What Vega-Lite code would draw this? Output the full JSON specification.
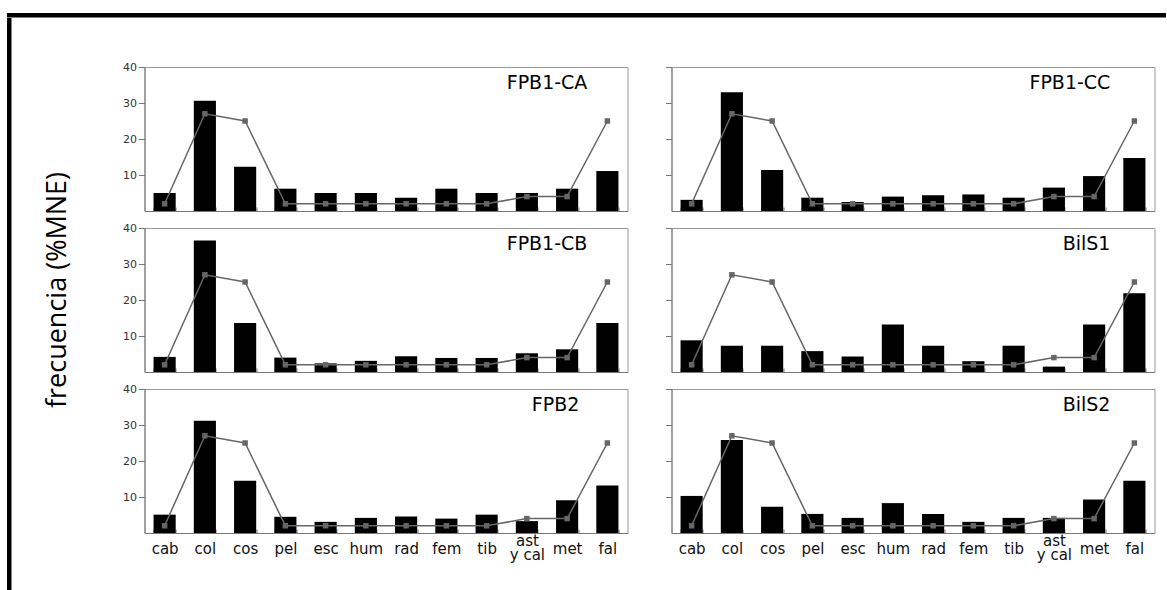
{
  "$schema": "https://vega.github.io/schema/vega-lite/v6.json",
  "background": "white",
  "padding": {"left": 7, "top": 13, "right": 0, "bottom": 0},
  "spacing": 0,
  "config": {
    "font": "DejaVu Sans",
    "view": {"stroke": "#999", "strokeWidth": 1},
    "axis": {"domainColor": "#777", "tickColor": "#777", "labelFont": "DejaVu Sans", "grid": false},
    "axisX": {"labelFontSize": 15, "labelColor": "#111", "labelAngle": 0, "tickSize": -4, "tickBand": "extent", "labelBaseline": "middle", "labelLineHeight": 14, "labelOverlap": false},
    "axisY": {"labelFontSize": 11, "labelColor": "#333", "tickSize": 6, "labelPadding": 2}
  },
  "datasets": {
    "freq": [
      {"panel": "FPB1-CA", "cat": "cab", "i": 1, "frec": 5.0, "esp": 2},
      {"panel": "FPB1-CA", "cat": "col", "i": 2, "frec": 30.6, "esp": 27},
      {"panel": "FPB1-CA", "cat": "cos", "i": 3, "frec": 12.3, "esp": 25},
      {"panel": "FPB1-CA", "cat": "pel", "i": 4, "frec": 6.2, "esp": 2},
      {"panel": "FPB1-CA", "cat": "esc", "i": 5, "frec": 5.0, "esp": 2},
      {"panel": "FPB1-CA", "cat": "hum", "i": 6, "frec": 5.0, "esp": 2},
      {"panel": "FPB1-CA", "cat": "rad", "i": 7, "frec": 3.7, "esp": 2},
      {"panel": "FPB1-CA", "cat": "fem", "i": 8, "frec": 6.2, "esp": 2},
      {"panel": "FPB1-CA", "cat": "tib", "i": 9, "frec": 5.0, "esp": 2},
      {"panel": "FPB1-CA", "cat": "ast y cal", "i": 10, "frec": 5.0, "esp": 4},
      {"panel": "FPB1-CA", "cat": "met", "i": 11, "frec": 6.2, "esp": 4},
      {"panel": "FPB1-CA", "cat": "fal", "i": 12, "frec": 11.1, "esp": 25},
      {"panel": "FPB1-CC", "cat": "cab", "i": 1, "frec": 3.1, "esp": 2},
      {"panel": "FPB1-CC", "cat": "col", "i": 2, "frec": 33.0, "esp": 27},
      {"panel": "FPB1-CC", "cat": "cos", "i": 3, "frec": 11.4, "esp": 25},
      {"panel": "FPB1-CC", "cat": "pel", "i": 4, "frec": 3.7, "esp": 2},
      {"panel": "FPB1-CC", "cat": "esc", "i": 5, "frec": 2.5, "esp": 2},
      {"panel": "FPB1-CC", "cat": "hum", "i": 6, "frec": 4.0, "esp": 2},
      {"panel": "FPB1-CC", "cat": "rad", "i": 7, "frec": 4.4, "esp": 2},
      {"panel": "FPB1-CC", "cat": "fem", "i": 8, "frec": 4.6, "esp": 2},
      {"panel": "FPB1-CC", "cat": "tib", "i": 9, "frec": 3.7, "esp": 2},
      {"panel": "FPB1-CC", "cat": "ast y cal", "i": 10, "frec": 6.5, "esp": 4},
      {"panel": "FPB1-CC", "cat": "met", "i": 11, "frec": 9.7, "esp": 4},
      {"panel": "FPB1-CC", "cat": "fal", "i": 12, "frec": 14.7, "esp": 25},
      {"panel": "FPB1-CB", "cat": "cab", "i": 1, "frec": 4.2, "esp": 2},
      {"panel": "FPB1-CB", "cat": "col", "i": 2, "frec": 36.5, "esp": 27},
      {"panel": "FPB1-CB", "cat": "cos", "i": 3, "frec": 13.6, "esp": 25},
      {"panel": "FPB1-CB", "cat": "pel", "i": 4, "frec": 4.0, "esp": 2},
      {"panel": "FPB1-CB", "cat": "esc", "i": 5, "frec": 2.4, "esp": 2},
      {"panel": "FPB1-CB", "cat": "hum", "i": 6, "frec": 3.1, "esp": 2},
      {"panel": "FPB1-CB", "cat": "rad", "i": 7, "frec": 4.4, "esp": 2},
      {"panel": "FPB1-CB", "cat": "fem", "i": 8, "frec": 3.9, "esp": 2},
      {"panel": "FPB1-CB", "cat": "tib", "i": 9, "frec": 3.9, "esp": 2},
      {"panel": "FPB1-CB", "cat": "ast y cal", "i": 10, "frec": 5.2, "esp": 4},
      {"panel": "FPB1-CB", "cat": "met", "i": 11, "frec": 6.3, "esp": 4},
      {"panel": "FPB1-CB", "cat": "fal", "i": 12, "frec": 13.6, "esp": 25},
      {"panel": "BilS1", "cat": "cab", "i": 1, "frec": 8.8, "esp": 2},
      {"panel": "BilS1", "cat": "col", "i": 2, "frec": 7.3, "esp": 27},
      {"panel": "BilS1", "cat": "cos", "i": 3, "frec": 7.3, "esp": 25},
      {"panel": "BilS1", "cat": "pel", "i": 4, "frec": 5.8, "esp": 2},
      {"panel": "BilS1", "cat": "esc", "i": 5, "frec": 4.3, "esp": 2},
      {"panel": "BilS1", "cat": "hum", "i": 6, "frec": 13.2, "esp": 2},
      {"panel": "BilS1", "cat": "rad", "i": 7, "frec": 7.3, "esp": 2},
      {"panel": "BilS1", "cat": "fem", "i": 8, "frec": 3.0, "esp": 2},
      {"panel": "BilS1", "cat": "tib", "i": 9, "frec": 7.3, "esp": 2},
      {"panel": "BilS1", "cat": "ast y cal", "i": 10, "frec": 1.5, "esp": 4},
      {"panel": "BilS1", "cat": "met", "i": 11, "frec": 13.2, "esp": 4},
      {"panel": "BilS1", "cat": "fal", "i": 12, "frec": 21.9, "esp": 25},
      {"panel": "FPB2", "cat": "cab", "i": 1, "frec": 5.1, "esp": 2},
      {"panel": "FPB2", "cat": "col", "i": 2, "frec": 31.2, "esp": 27},
      {"panel": "FPB2", "cat": "cos", "i": 3, "frec": 14.5, "esp": 25},
      {"panel": "FPB2", "cat": "pel", "i": 4, "frec": 4.5, "esp": 2},
      {"panel": "FPB2", "cat": "esc", "i": 5, "frec": 3.1, "esp": 2},
      {"panel": "FPB2", "cat": "hum", "i": 6, "frec": 4.2, "esp": 2},
      {"panel": "FPB2", "cat": "rad", "i": 7, "frec": 4.6, "esp": 2},
      {"panel": "FPB2", "cat": "fem", "i": 8, "frec": 4.0, "esp": 2},
      {"panel": "FPB2", "cat": "tib", "i": 9, "frec": 5.1, "esp": 2},
      {"panel": "FPB2", "cat": "ast y cal", "i": 10, "frec": 3.3, "esp": 4},
      {"panel": "FPB2", "cat": "met", "i": 11, "frec": 9.1, "esp": 4},
      {"panel": "FPB2", "cat": "fal", "i": 12, "frec": 13.2, "esp": 25},
      {"panel": "BilS2", "cat": "cab", "i": 1, "frec": 10.3, "esp": 2},
      {"panel": "BilS2", "cat": "col", "i": 2, "frec": 25.8, "esp": 27},
      {"panel": "BilS2", "cat": "cos", "i": 3, "frec": 7.3, "esp": 25},
      {"panel": "BilS2", "cat": "pel", "i": 4, "frec": 5.3, "esp": 2},
      {"panel": "BilS2", "cat": "esc", "i": 5, "frec": 4.2, "esp": 2},
      {"panel": "BilS2", "cat": "hum", "i": 6, "frec": 8.3, "esp": 2},
      {"panel": "BilS2", "cat": "rad", "i": 7, "frec": 5.3, "esp": 2},
      {"panel": "BilS2", "cat": "fem", "i": 8, "frec": 3.1, "esp": 2},
      {"panel": "BilS2", "cat": "tib", "i": 9, "frec": 4.2, "esp": 2},
      {"panel": "BilS2", "cat": "ast y cal", "i": 10, "frec": 4.2, "esp": 4},
      {"panel": "BilS2", "cat": "met", "i": 11, "frec": 9.3, "esp": 4},
      {"panel": "BilS2", "cat": "fal", "i": 12, "frec": 14.5, "esp": 25}
    ]
  },
  "vconcat": [
    {"width": 1155, "height": 0.5, "data": {"values": []}, "mark": "point", "encoding": {}, "view": {"stroke": "black", "strokeWidth": 4}},
    {
      "spacing": 30.5,
      "hconcat": [
        {"width": 0.5, "height": 568, "data": {"values": []}, "mark": "point", "encoding": {}, "view": {"stroke": "black", "strokeWidth": 4}},
        {
          "spacing": 39,
          "vconcat": [
            {"width": 0.5, "height": 0.5, "data": {"values": []}, "mark": "point", "encoding": {}, "view": {"stroke": null}},
            {
              "spacing": 49,
              "hconcat": [
                {
                  "width": 30, "height": 446,
                  "view": {"stroke": null},
                  "data": {"values": [{"titulo": "frecuencia (%MNE)"}]},
                  "mark": {"type": "text", "angle": 270, "align": "center", "baseline": "middle", "font": "Open Sans", "fontSize": 27, "color": "black"},
                  "encoding": {"text": {"field": "titulo"}}
                },
                {
                  "spacing": 9,
                  "vconcat": [
                    {
                      "spacing": 36,
                      "hconcat": [
                        {
                          "width": 483, "height": 144,
                          "layer": [
                            {"data": {"name": "freq"}, "transform": [{"filter": "datum.panel === 'FPB1-CA'"}],
                             "mark": {"type": "bar", "color": "black"},
                             "encoding": {
                               "x": {"field": "cat", "type": "nominal", "sort": ["cab","col","cos","pel","esc","hum","rad","fem","tib","ast y cal","met","fal"], "scale": {"paddingInner": 0.45, "paddingOuter": 0.225}, "axis": {"title": null, "labels": false}},
                               "y": {"field": "frec", "type": "quantitative", "scale": {"domain": [0, 40]}, "axis": {"title": null, "values": [10, 20, 30, 40]}}
                             }},
                            {"data": {"name": "freq"}, "transform": [{"filter": "datum.panel === 'FPB1-CA'"}],
                             "mark": {"type": "line", "color": "#666", "strokeWidth": 1.5, "point": {"filled": true, "shape": "square", "size": 30, "color": "#666", "opacity": 1}},
                             "encoding": {
                               "x": {"field": "cat", "type": "nominal", "sort": ["cab","col","cos","pel","esc","hum","rad","fem","tib","ast y cal","met","fal"], "title": null},
                               "y": {"field": "esp", "type": "quantitative", "title": null},
                               "order": {"field": "i"}
                             }},
                            {"data": {"values": [{"panel": "FPB1-CA"}]},
                             "mark": {"type": "text", "align": "right", "baseline": "alphabetic", "fontSize": 19, "dx": -20, "color": "black"},
                             "encoding": {"x": {"datum": "fal"}, "y": {"datum": 33.9}, "text": {"field": "panel"}}}
                          ]
                        },
                        {
                          "width": 483, "height": 144,
                          "layer": [
                            {"data": {"name": "freq"}, "transform": [{"filter": "datum.panel === 'FPB1-CC'"}],
                             "mark": {"type": "bar", "color": "black"},
                             "encoding": {
                               "x": {"field": "cat", "type": "nominal", "sort": ["cab","col","cos","pel","esc","hum","rad","fem","tib","ast y cal","met","fal"], "scale": {"paddingInner": 0.45, "paddingOuter": 0.225}, "axis": {"title": null, "labels": false}},
                               "y": {"field": "frec", "type": "quantitative", "scale": {"domain": [0, 40]}, "axis": {"title": null, "values": [10, 20, 30, 40], "labels": false}}
                             }},
                            {"data": {"name": "freq"}, "transform": [{"filter": "datum.panel === 'FPB1-CC'"}],
                             "mark": {"type": "line", "color": "#666", "strokeWidth": 1.5, "point": {"filled": true, "shape": "square", "size": 30, "color": "#666", "opacity": 1}},
                             "encoding": {
                               "x": {"field": "cat", "type": "nominal", "sort": ["cab","col","cos","pel","esc","hum","rad","fem","tib","ast y cal","met","fal"], "title": null},
                               "y": {"field": "esp", "type": "quantitative", "title": null},
                               "order": {"field": "i"}
                             }},
                            {"data": {"values": [{"panel": "FPB1-CC"}]},
                             "mark": {"type": "text", "align": "right", "baseline": "alphabetic", "fontSize": 19, "dx": -24, "color": "black"},
                             "encoding": {"x": {"datum": "fal"}, "y": {"datum": 33.9}, "text": {"field": "panel"}}}
                          ]
                        }
                      ]
                    },
                    {
                      "spacing": 36,
                      "hconcat": [
                        {
                          "width": 483, "height": 144,
                          "layer": [
                            {"data": {"name": "freq"}, "transform": [{"filter": "datum.panel === 'FPB1-CB'"}],
                             "mark": {"type": "bar", "color": "black"},
                             "encoding": {
                               "x": {"field": "cat", "type": "nominal", "sort": ["cab","col","cos","pel","esc","hum","rad","fem","tib","ast y cal","met","fal"], "scale": {"paddingInner": 0.45, "paddingOuter": 0.225}, "axis": {"title": null, "labels": false}},
                               "y": {"field": "frec", "type": "quantitative", "scale": {"domain": [0, 40]}, "axis": {"title": null, "values": [10, 20, 30, 40]}}
                             }},
                            {"data": {"name": "freq"}, "transform": [{"filter": "datum.panel === 'FPB1-CB'"}],
                             "mark": {"type": "line", "color": "#666", "strokeWidth": 1.5, "point": {"filled": true, "shape": "square", "size": 30, "color": "#666", "opacity": 1}},
                             "encoding": {
                               "x": {"field": "cat", "type": "nominal", "sort": ["cab","col","cos","pel","esc","hum","rad","fem","tib","ast y cal","met","fal"], "title": null},
                               "y": {"field": "esp", "type": "quantitative", "title": null},
                               "order": {"field": "i"}
                             }},
                            {"data": {"values": [{"panel": "FPB1-CB"}]},
                             "mark": {"type": "text", "align": "right", "baseline": "alphabetic", "fontSize": 19, "dx": -20, "color": "black"},
                             "encoding": {"x": {"datum": "fal"}, "y": {"datum": 33.9}, "text": {"field": "panel"}}}
                          ]
                        },
                        {
                          "width": 483, "height": 144,
                          "layer": [
                            {"data": {"name": "freq"}, "transform": [{"filter": "datum.panel === 'BilS1'"}],
                             "mark": {"type": "bar", "color": "black"},
                             "encoding": {
                               "x": {"field": "cat", "type": "nominal", "sort": ["cab","col","cos","pel","esc","hum","rad","fem","tib","ast y cal","met","fal"], "scale": {"paddingInner": 0.45, "paddingOuter": 0.225}, "axis": {"title": null, "labels": false}},
                               "y": {"field": "frec", "type": "quantitative", "scale": {"domain": [0, 40]}, "axis": {"title": null, "values": [10, 20, 30, 40], "labels": false}}
                             }},
                            {"data": {"name": "freq"}, "transform": [{"filter": "datum.panel === 'BilS1'"}],
                             "mark": {"type": "line", "color": "#666", "strokeWidth": 1.5, "point": {"filled": true, "shape": "square", "size": 30, "color": "#666", "opacity": 1}},
                             "encoding": {
                               "x": {"field": "cat", "type": "nominal", "sort": ["cab","col","cos","pel","esc","hum","rad","fem","tib","ast y cal","met","fal"], "title": null},
                               "y": {"field": "esp", "type": "quantitative", "title": null},
                               "order": {"field": "i"}
                             }},
                            {"data": {"values": [{"panel": "BilS1"}]},
                             "mark": {"type": "text", "align": "right", "baseline": "alphabetic", "fontSize": 19, "dx": -24, "color": "black"},
                             "encoding": {"x": {"datum": "fal"}, "y": {"datum": 33.9}, "text": {"field": "panel"}}}
                          ]
                        }
                      ]
                    },
                    {
                      "spacing": 36,
                      "hconcat": [
                        {
                          "width": 483, "height": 144,
                          "layer": [
                            {"data": {"name": "freq"}, "transform": [{"filter": "datum.panel === 'FPB2'"}],
                             "mark": {"type": "bar", "color": "black"},
                             "encoding": {
                               "x": {"field": "cat", "type": "nominal", "sort": ["cab","col","cos","pel","esc","hum","rad","fem","tib","ast y cal","met","fal"], "scale": {"paddingInner": 0.45, "paddingOuter": 0.225}, "axis": {"title": null, "labelExpr": "datum.value == 'ast y cal' ? ['ast', 'y cal'] : datum.value", "labelPadding": {"condition": {"test": "datum.value == 'ast y cal'", "value": 11}, "value": 19}}},
                               "y": {"field": "frec", "type": "quantitative", "scale": {"domain": [0, 40]}, "axis": {"title": null, "values": [10, 20, 30, 40]}}
                             }},
                            {"data": {"name": "freq"}, "transform": [{"filter": "datum.panel === 'FPB2'"}],
                             "mark": {"type": "line", "color": "#666", "strokeWidth": 1.5, "point": {"filled": true, "shape": "square", "size": 30, "color": "#666", "opacity": 1}},
                             "encoding": {
                               "x": {"field": "cat", "type": "nominal", "sort": ["cab","col","cos","pel","esc","hum","rad","fem","tib","ast y cal","met","fal"], "title": null},
                               "y": {"field": "esp", "type": "quantitative", "title": null},
                               "order": {"field": "i"}
                             }},
                            {"data": {"values": [{"panel": "FPB2"}]},
                             "mark": {"type": "text", "align": "right", "baseline": "alphabetic", "fontSize": 19, "dx": -28, "color": "black"},
                             "encoding": {"x": {"datum": "fal"}, "y": {"datum": 33.9}, "text": {"field": "panel"}}}
                          ]
                        },
                        {
                          "width": 483, "height": 144,
                          "layer": [
                            {"data": {"name": "freq"}, "transform": [{"filter": "datum.panel === 'BilS2'"}],
                             "mark": {"type": "bar", "color": "black"},
                             "encoding": {
                               "x": {"field": "cat", "type": "nominal", "sort": ["cab","col","cos","pel","esc","hum","rad","fem","tib","ast y cal","met","fal"], "scale": {"paddingInner": 0.45, "paddingOuter": 0.225}, "axis": {"title": null, "labelExpr": "datum.value == 'ast y cal' ? ['ast', 'y cal'] : datum.value", "labelPadding": {"condition": {"test": "datum.value == 'ast y cal'", "value": 11}, "value": 19}}},
                               "y": {"field": "frec", "type": "quantitative", "scale": {"domain": [0, 40]}, "axis": {"title": null, "values": [10, 20, 30, 40], "labels": false}}
                             }},
                            {"data": {"name": "freq"}, "transform": [{"filter": "datum.panel === 'BilS2'"}],
                             "mark": {"type": "line", "color": "#666", "strokeWidth": 1.5, "point": {"filled": true, "shape": "square", "size": 30, "color": "#666", "opacity": 1}},
                             "encoding": {
                               "x": {"field": "cat", "type": "nominal", "sort": ["cab","col","cos","pel","esc","hum","rad","fem","tib","ast y cal","met","fal"], "title": null},
                               "y": {"field": "esp", "type": "quantitative", "title": null},
                               "order": {"field": "i"}
                             }},
                            {"data": {"values": [{"panel": "BilS2"}]},
                             "mark": {"type": "text", "align": "right", "baseline": "alphabetic", "fontSize": 19, "dx": -24, "color": "black"},
                             "encoding": {"x": {"datum": "fal"}, "y": {"datum": 33.9}, "text": {"field": "panel"}}}
                          ]
                        }
                      ]
                    }
                  ]
                }
              ]
            }
          ]
        }
      ]
    }
  ]
}
